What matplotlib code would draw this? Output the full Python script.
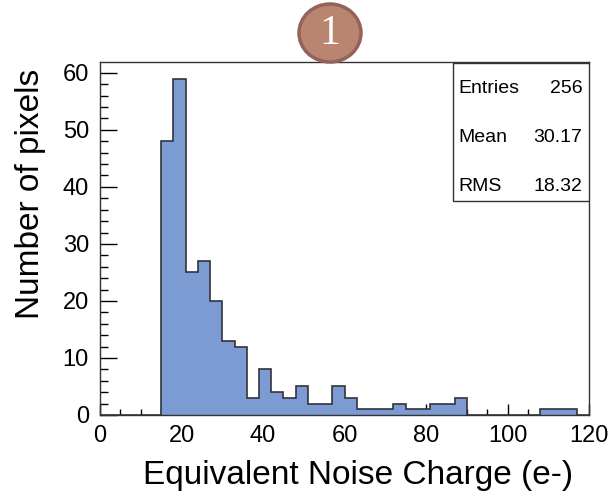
import matplotlib
matplotlib.use("Agg")
import matplotlib.pyplot as plt
import numpy as np
from matplotlib.patches import Rectangle, Ellipse
from matplotlib.ticker import MultipleLocator

plt.rcParams['font.family'] = ['Liberation Sans', 'DejaVu Sans']

# histogram data: 40 bins of width 3 from 0 to 120
bin_edges = np.arange(0, 121, 3)
counts = [0, 0, 0, 0, 0,
          48, 59, 25, 27, 20, 13, 12, 3, 8, 4, 3, 5, 2, 2, 5, 3,
          1, 1, 1, 2, 1, 1, 2, 2, 3,
          0, 0, 0, 0, 0, 0,
          1, 1, 1, 0]
stat_names = ['Entries', 'Mean', 'RMS']
stat_values = ['256', '30.17', '18.32']

fig = plt.figure(figsize=(6.10, 4.91), dpi=100)
ax = fig.add_axes([0.164, 0.1548, 0.8016, 0.7189])

# filled histogram + outline
ax.stairs(counts, bin_edges, fill=True, color='#7b9bd2', zorder=2)
ax.stairs(counts, bin_edges, color='#33333d', linewidth=1.2, zorder=3)

ax.set_xlim(0, 120)
ax.set_ylim(0, 61.9)
ax.xaxis.set_major_locator(MultipleLocator(20))
ax.xaxis.set_minor_locator(MultipleLocator(5))
ax.yaxis.set_major_locator(MultipleLocator(10))
ax.yaxis.set_minor_locator(MultipleLocator(2))
ax.tick_params(axis='x', which='major', direction='in', length=8, width=1, labelsize=17, pad=7)
ax.tick_params(axis='x', which='minor', direction='in', length=4.3, width=1)
ax.tick_params(axis='y', which='major', direction='in', length=12, width=1, labelsize=17, pad=8)
ax.tick_params(axis='y', which='minor', direction='in', length=6, width=1)
for s in ax.spines.values():
    s.set_linewidth(1)
    s.set_color('#333333')

ax.set_xlabel('Equivalent Noise Charge (e-)', fontsize=24, va='center')
ax.xaxis.set_label_coords(0.528, -0.172)
ax.set_ylabel('Number of pixels', fontsize=24, va='center')
ax.yaxis.set_label_coords(-0.143, 0.627)

# stats box
box = Rectangle((0.722, 0.607), 0.278, 0.39, transform=ax.transAxes,
                facecolor='white', edgecolor='#333333', linewidth=1, zorder=5)
ax.add_patch(box)
for name, val, yy in zip(stat_names, stat_values, [0.924, 0.785, 0.647]):
    ax.text(0.732, yy, name, transform=ax.transAxes, fontsize=14, va='center', ha='left', zorder=6)
    ax.text(0.986, yy, val, transform=ax.transAxes, fontsize=14, va='center', ha='right', zorder=6)

# badge
badge = Ellipse((330 / 610, 1 - 33 / 491), 62 / 610, 58 / 491, transform=fig.transFigure,
                facecolor='#b98470', edgecolor='#94625a', linewidth=2.5, zorder=10)
fig.add_artist(badge)
fig.text(330 / 610, 1 - 34 / 491, '1', color='white', fontsize=30, family='Liberation Serif',
         ha='center', va='center', zorder=11)

fig.savefig('out.png', dpi=100)
